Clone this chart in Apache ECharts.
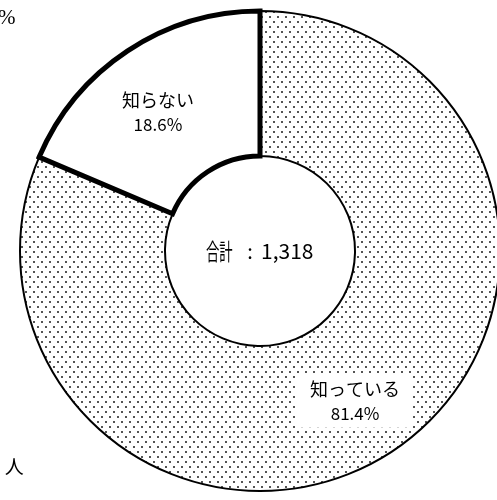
<!DOCTYPE html>
<html><head><meta charset="utf-8">
<script src="https://cdn.jsdelivr.net/npm/echarts@6/dist/echarts.min.js"></script>
<style>html,body{margin:0;padding:0;background:#fff}#c{width:497px;height:500px}</style>
</head><body><div id="c"></div>
<script>
const categories = ['知っている', '知らない'];
const percents = [81.4, 18.6];
const totalLabel = '合計';
const totalValue = '1,318';

function dotPattern() {
  const cv = document.createElement('canvas');
  cv.width = 8; cv.height = 10;
  const ctx = cv.getContext('2d');
  ctx.fillStyle = '#fff'; ctx.fillRect(0, 0, 8, 10);
  ctx.fillStyle = '#666';
  ctx.fillRect(1, 1, 2, 2);
  ctx.fillRect(5, 6, 2, 2);
  ctx.fillStyle = '#222';
  ctx.fillRect(1.5, 1.5, 1, 1);
  ctx.fillRect(5.5, 6.5, 1, 1);
  return cv;
}

const chart = echarts.init(document.getElementById('c'));
const fonts = '"Noto Sans CJK JP", sans-serif';
chart.setOption({
  animation: false,
  series: [{
    type: 'pie',
    center: [260, 251],
    radius: [95, 240],
    startAngle: 90,
    clockwise: true,
    silent: true,
    label: {
      show: true,
      position: 'inside',
      fontFamily: fonts,
      color: '#000',
      formatter: p => '{n|' + p.name + '}\n{v|' + p.value.toFixed(1) + '%}',
      rich: {
        n: { fontSize: 18, fontFamily: fonts, color: '#000', lineHeight: 25 },
        v: { fontSize: 17, fontFamily: fonts, color: '#000', lineHeight: 24 }
      }
    },
    labelLine: { show: false },
    data: [
      { name: categories[0], value: percents[0],
        itemStyle: { color: { image: dotPattern(), repeat: 'repeat' }, borderColor: '#000', borderWidth: 2 },
        label: { backgroundColor: '#fff', padding: [2, 12, 2, 14], offset: [0, 8] } },
      { name: categories[1], value: percents[1],
        itemStyle: { color: '#fff', borderColor: '#000', borderWidth: 5, borderJoin: 'miter' },
        label: { offset: [-8, 3] } }
    ]
  }],
  graphic: [
    { type: 'text', x: 206, y: 251, scaleX: 0.58, style: { text: totalLabel, fontSize: 23, fontFamily: fonts, fill: '#000', align: 'left', verticalAlign: 'middle' } },
    { type: 'text', x: 250, y: 251, style: { text: ':', fontSize: 20, fontFamily: fonts, fill: '#000', align: 'center', verticalAlign: 'middle' } },
    { type: 'text', x: 261, y: 251, style: { text: totalValue, fontSize: 21, fontFamily: fonts, fill: '#000', align: 'left', verticalAlign: 'middle' } },
    { type: 'text', x: -2, y: 8, style: { text: '%', fontSize: 21, fontFamily: '"Liberation Serif", serif', fill: '#000' } },
    { type: 'text', x: -10, y: 457, style: { text: '0 人', fontSize: 19, fontFamily: fonts, fill: '#000' } }
  ]
});
</script></body></html>
